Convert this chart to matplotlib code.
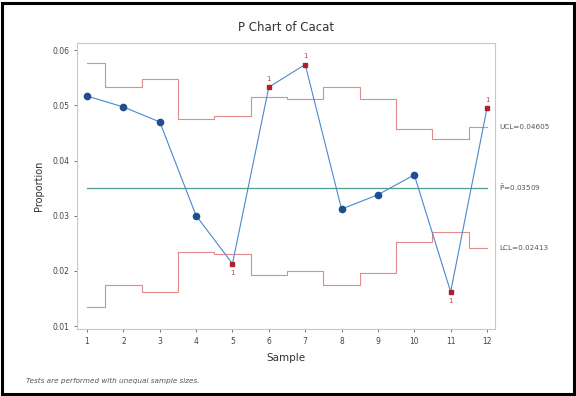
import numpy as np
import matplotlib.pyplot as plt
from matplotlib.patches import Rectangle

# Sample proportions and their control limits (unequal sample sizes)
samples = np.arange(1, 13)
proportion = [0.0517, 0.0497, 0.0470, 0.0300, 0.0213, 0.0533,
              0.0574, 0.0312, 0.0338, 0.0374, 0.0162, 0.0495]
ucl = [0.0577, 0.0533, 0.0548, 0.0475, 0.0481, 0.0515,
       0.0511, 0.0533, 0.0511, 0.0457, 0.0439, 0.04605]
lcl = [0.0135, 0.0175, 0.0161, 0.0235, 0.0231, 0.0193,
       0.0199, 0.0175, 0.0197, 0.0253, 0.0271, 0.02413]
p_bar = 0.03509
ucl_label = "UCL=0.04605"
center_label = r"$\bar{\mathrm{P}}$=0.03509"
lcl_label = "LCL=0.02413"

# samples failing test 1 (beyond limits)
flagged = [5, 6, 7, 11, 12]

fig = plt.figure(figsize=(5.76, 3.96), dpi=100)
fig.patches.append(Rectangle((0.004, 0.004), 0.992, 0.988, transform=fig.transFigure,
                             fill=False, edgecolor="black", linewidth=2.2))
ax = fig.add_axes([0.1337, 0.1692, 0.7257, 0.7222])

# step-shaped limits, changing halfway between samples
edges = np.concatenate(([1.0], samples[:-1] + 0.5, [12.0]))
for lim in (ucl, lcl):
    xs = np.repeat(edges, 2)[1:-1]
    ys = np.repeat(lim, 2)
    ax.plot(xs, ys, color="#e08c8c", lw=0.8)

ax.plot([1, 12], [p_bar, p_bar], color="#4f9e92", lw=0.9)

ax.plot(samples, proportion, color="#4a88cc", lw=0.8, zorder=3)
normal = [i for i in range(12) if samples[i] not in flagged]
bad = [i for i in range(12) if samples[i] in flagged]
ax.plot(samples[normal], np.array(proportion)[normal], "o", color="#1f4f8f",
        ms=4.5, zorder=4)
ax.plot(samples[bad], np.array(proportion)[bad], "s", color="#b0202a",
        ms=3.5, zorder=4)
for i in bad:
    below = proportion[i] < lcl[i]
    ax.text(samples[i], proportion[i] + (-0.0012 if below else 0.0010), "1",
            color="#c04040", fontsize=5, ha="center",
            va="top" if below else "bottom")

ax.set_xlim(0.725, 12.22)
ax.set_ylim(0.00946, 0.0613)
ax.set_xticks(samples)
ax.set_yticks([0.01, 0.02, 0.03, 0.04, 0.05, 0.06])
ax.set_yticklabels(["0.01", "0.02", "0.03", "0.04", "0.05", "0.06"])
ax.tick_params(labelsize=5.5, colors="#444444", length=2, width=0.5)
for s in ax.spines.values():
    s.set_color("#c8c8c8")
    s.set_linewidth(0.8)

ax.set_title("P Chart of Cacat", fontsize=8.5, color="#333333", pad=9)
ax.set_xlabel("Sample", fontsize=7.5, color="#333333", labelpad=5)
ax.set_ylabel("Proportion", fontsize=7, color="#333333", labelpad=6)

for y, lab in ((ucl[-1], ucl_label), (p_bar, center_label), (lcl[-1], lcl_label)):
    ax.text(1.01, y, lab, transform=ax.get_yaxis_transform(), fontsize=5.2,
            color="#555555", va="center", ha="left")

fig.text(0.045, 0.033, "Tests are performed with unequal sample sizes.",
         fontsize=5.2, style="italic", color="#555555")

fig.savefig("out.png", dpi=100)
